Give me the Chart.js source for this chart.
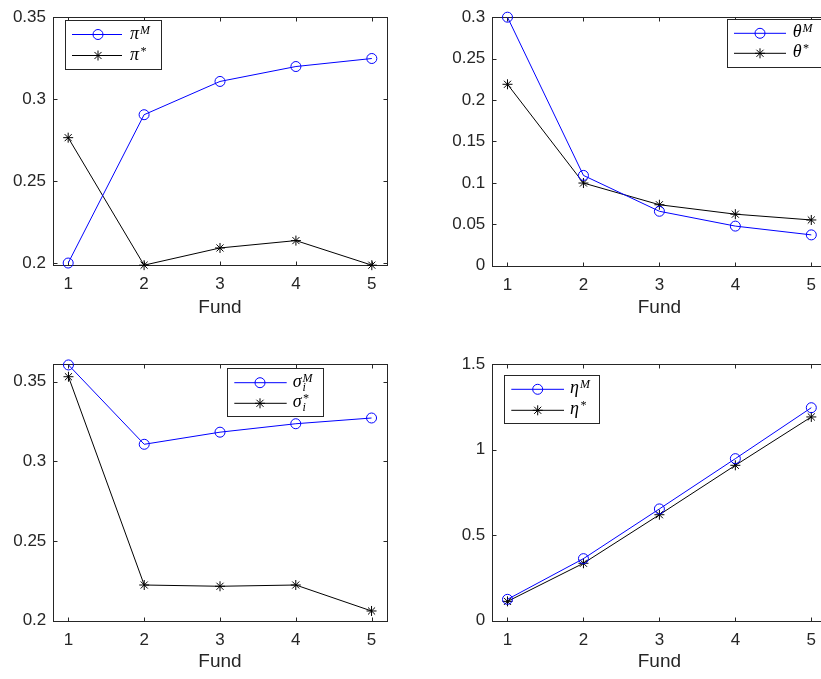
<!DOCTYPE html>
<html>
<head>
<meta charset="utf-8">
<script src="https://cdn.jsdelivr.net/npm/chart.js"></script>
<style>
  html, body { margin: 0; padding: 0; background: #fff; }
  #wrap { position: relative; width: 821px; height: 679px; overflow: hidden; }
  canvas { position: absolute; }
</style>
</head>
<body>
<div id="wrap">
  <canvas id="c1" width="410" height="319" style="left:0;top:0"></canvas>
  <canvas id="c2" width="430" height="319" style="left:410px;top:0"></canvas>
  <canvas id="c3" width="410" height="333" style="left:0;top:340px"></canvas>
  <canvas id="c4" width="430" height="333" style="left:410px;top:340px"></canvas>
</div>
<script>
// data
var funds = [1, 2, 3, 4, 5];
var piM = [0.2, 0.2905, 0.3108, 0.3199, 0.3248];
var piStar = [0.2765, 0.1987, 0.2092, 0.2137, 0.1987];
var thetaM = [0.3, 0.109, 0.0657, 0.0478, 0.0372];
var thetaStar = [0.219, 0.0998, 0.0736, 0.0622, 0.0552];
var sigmaM = [0.3605, 0.3107, 0.3183, 0.3236, 0.3272];
var sigmaStar = [0.3531, 0.2224, 0.2216, 0.2224, 0.2061];
var etaM = [0.125, 0.363, 0.654, 0.948, 1.246];
var etaStar = [0.113, 0.336, 0.620, 0.909, 1.192];

// tick labels
var xTicks = [1, 2, 3, 4, 5];
var piTicks = [0.2, 0.25, 0.3, 0.35];
var thetaTicks = [0, 0.05, 0.1, 0.15, 0.2, 0.25, 0.3];
var sigmaTicks = [0.2, 0.25, 0.3, 0.35];
var etaTicks = [0, 0.5, 1, 1.5];

var axisColor = '#262626';
var tickFont = { family: '"Liberation Sans", Arial, Helvetica, sans-serif', size: 17 };
var mathFont = '"Liberation Serif", "DejaVu Serif", serif';

function drawMarker(ctx, style, x, y) {
  ctx.beginPath();
  if (style === 'circle') {
    ctx.arc(x, y, 5, 0, Math.PI * 2);
  } else {
    var r = 5;
    for (var k = 0; k < 4; k++) {
      var a = k * Math.PI / 4;
      ctx.moveTo(x - r * Math.cos(a), y - r * Math.sin(a));
      ctx.lineTo(x + r * Math.cos(a), y + r * Math.sin(a));
    }
  }
  ctx.stroke();
}

// MATLAB style box, inward ticks and legend
var matlabAxes = {
  id: 'matlabAxes',
  beforeDatasetsDraw: function(chart) {
    var ctx = chart.ctx, a = chart.chartArea;
    var x = chart.scales.x, y = chart.scales.y;
    ctx.save();
    ctx.strokeStyle = axisColor;
    ctx.lineWidth = 1;
    var L = Math.round(a.left) + 0.5, R = Math.round(a.right) + 0.5;
    var T = Math.round(a.top) + 0.5, B = Math.round(a.bottom) + 0.5;
    ctx.strokeRect(L, T, R - L, B - T);
    ctx.beginPath();
    x.ticks.forEach(function(t) {
      var px = Math.round(x.getPixelForValue(t.value)) + 0.5;
      ctx.moveTo(px, B); ctx.lineTo(px, B - 4);
      ctx.moveTo(px, T); ctx.lineTo(px, T + 4);
    });
    y.ticks.forEach(function(t) {
      var py = Math.round(y.getPixelForValue(t.value)) + 0.5;
      ctx.moveTo(L, py); ctx.lineTo(L + 4, py);
      ctx.moveTo(R, py); ctx.lineTo(R - 4, py);
    });
    ctx.stroke();
    ctx.restore();
  },
  afterDraw: function(chart, args, opts) {
    var lg = opts.legend;
    if (!lg) return;
    var ctx = chart.ctx;
    ctx.save();
    ctx.fillStyle = '#fff';
    ctx.fillRect(lg.x, lg.y, lg.w, lg.h);
    ctx.strokeStyle = axisColor;
    ctx.lineWidth = 1;
    ctx.strokeRect(Math.round(lg.x) + 0.5, Math.round(lg.y) + 0.5, Math.round(lg.w), Math.round(lg.h));
    lg.entries.forEach(function(e, i) {
      var ry = lg.rows[i];
      ctx.strokeStyle = e.color;
      ctx.beginPath();
      ctx.moveTo(lg.lineX0, ry); ctx.lineTo(lg.lineX1, ry);
      ctx.stroke();
      drawMarker(ctx, e.style, lg.markX, ry);
      ctx.fillStyle = '#000';
      ctx.textBaseline = 'alphabetic';
      ctx.textAlign = 'left';
      ctx.font = 'italic 18px ' + mathFont;
      ctx.fillText(e.base, lg.textX, ry + 4);
      var sx = lg.textX + ctx.measureText(e.base).width + 1;
      ctx.font = 'italic 12px ' + mathFont;
      if (e.sup) ctx.fillText(e.sup, sx, ry - 1);
      if (e.sub) ctx.fillText(e.sub, sx, ry + 8);
    });
    ctx.restore();
  }
};

function tickLabel(v) {
  return String(+Number(v).toFixed(4));
}

function makePanel(id, p) {
  var cv = document.getElementById(id);
  var W = cv.width, H = cv.height;
  new Chart(cv, {
    type: 'line',
    data: {
      labels: funds,
      datasets: [{
        data: funds.map(function(f, i) { return { x: f, y: p.m[i] }; }),
        borderColor: '#0000ff',
        borderWidth: 1,
        pointStyle: 'circle',
        pointRadius: 5,
        pointBorderWidth: 1,
        pointBorderColor: '#0000ff',
        pointBackgroundColor: 'rgba(0,0,0,0)',
        tension: 0,
        clip: false
      }, {
        data: funds.map(function(f, i) { return { x: f, y: p.s[i] }; }),
        borderColor: '#000',
        borderWidth: 1,
        pointStyle: 'star',
        pointRadius: 5,
        pointBorderWidth: 1,
        pointBorderColor: '#000',
        tension: 0,
        clip: false
      }]
    },
    options: {
      responsive: false,
      animation: false,
      events: [],
      layout: { padding: { left: 0, top: p.area.t, right: W - p.area.r, bottom: 0 } },
      plugins: {
        legend: { display: false },
        tooltip: { enabled: false },
        matlabAxes: { legend: p.legend }
      },
      scales: {
        x: {
          type: 'linear',
          min: 0.8, max: 5.2,
          grid: { display: false, drawTicks: false },
          border: { display: false },
          afterBuildTicks: function(s) { s.ticks = xTicks.map(function(v) { return { value: v }; }); },
          afterFit: function(s) { s.height = H - p.area.b; },
          ticks: { font: tickFont, color: axisColor, padding: 9, maxRotation: 0, callback: tickLabel },
          title: { display: true, text: 'Fund', color: axisColor, padding: 0,
                   font: { family: tickFont.family, size: 19 } }
        },
        y: {
          min: p.ymin, max: p.ymax,
          grid: { display: false, drawTicks: false },
          border: { display: false },
          afterBuildTicks: function(s) { s.ticks = p.yTicks.map(function(v) { return { value: v }; }); },
          afterFit: function(s) { s.width = p.area.l; },
          ticks: { font: tickFont, color: axisColor, padding: 7, callback: tickLabel }
        }
      }
    },
    plugins: [matlabAxes]
  });
}

var blue = '#0000ff', black = '#000000';

makePanel('c1', {
  m: piM, s: piStar, yTicks: piTicks, ymin: 0.1988, ymax: 0.35,
  area: { l: 53, t: 10, r: 387, b: 265 },
  legend: { x: 64.5, y: 20, w: 96, h: 49, lineX0: 72, lineX1: 122, markX: 98, textX: 130, rows: [34.5, 55.5],
    entries: [{ color: blue, style: 'circle', base: 'π', sup: 'M' },
              { color: black, style: 'star', base: 'π', sup: '*' }] }
});

makePanel('c2', {
  m: thetaM, s: thetaStar, yTicks: thetaTicks, ymin: 0, ymax: 0.3,
  area: { l: 82.3, t: 10, r: 416.5, b: 265.7 },
  legend: { x: 316.7, y: 19, w: 94, h: 48, lineX0: 324, lineX1: 376, markX: 350, textX: 382.7, rows: [33.3, 53.3],
    entries: [{ color: blue, style: 'circle', base: 'θ', sup: 'M' },
              { color: black, style: 'star', base: 'θ', sup: '*' }] }
});

makePanel('c3', {
  m: sigmaM, s: sigmaStar, yTicks: sigmaTicks, ymin: 0.2, ymax: 0.3609,
  area: { l: 53.3, t: 24.3, r: 386.7, b: 280.7 },
  legend: { x: 226.7, y: 28.3, w: 95.6, h: 48, lineX0: 234.3, lineX1: 286.7, markX: 260, textX: 292.7, rows: [42.7, 63.3],
    entries: [{ color: blue, style: 'circle', base: 'σ', sup: 'M', sub: 'i' },
              { color: black, style: 'star', base: 'σ', sup: '*', sub: 'i' }] }
});

makePanel('c4', {
  m: etaM, s: etaStar, yTicks: etaTicks, ymin: 0, ymax: 1.5,
  area: { l: 82.3, t: 24.3, r: 416.5, b: 280.7 },
  legend: { x: 93.7, y: 35.3, w: 95, h: 48.4, lineX0: 101.3, lineX1: 154, markX: 127.7, textX: 160, rows: [49.3, 70.3],
    entries: [{ color: blue, style: 'circle', base: 'η', sup: 'M' },
              { color: black, style: 'star', base: 'η', sup: '*' }] }
});
</script>
</body>
</html>
